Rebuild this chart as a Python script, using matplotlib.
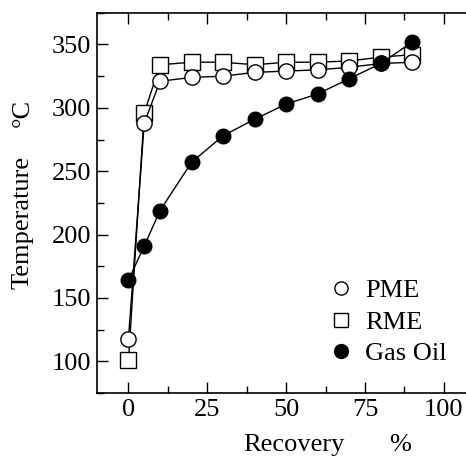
import matplotlib.pyplot as plt
from matplotlib.lines import Line2D
from matplotlib.ticker import MultipleLocator

# distillation curves
recovery = [0, 5, 10, 20, 30, 40, 50, 60, 70, 80, 90]
pme = [118, 288, 321, 324, 325, 328, 329, 330, 332, 335, 336]
rme = [101, 296, 334, 336, 336, 334, 336, 336, 337, 340, 342]
gas_oil = [164, 191, 219, 257, 278, 291, 303, 311, 323, 335, 352]

plt.rcParams['font.family'] = ['Liberation Serif', 'DejaVu Serif']

fig = plt.figure(figsize=(4.66, 4.57), dpi=100)
ax = fig.add_axes([0.208, 0.140, 0.792, 0.832])

ax.plot(recovery, rme, '-s', color='black', mfc='white', mec='black',
        ms=11, lw=1)
ax.plot(recovery, pme, '-o', color='black', mfc='white', mec='black',
        ms=11, lw=1)
ax.plot(recovery, gas_oil, '-o', color='black', mfc='black', mec='black',
        ms=10.5, lw=1)

ax.set_xlim(-10, 107)
ax.set_ylim(75, 375)
ax.xaxis.set_major_locator(MultipleLocator(25))
ax.xaxis.set_minor_locator(MultipleLocator(12.5))
ax.yaxis.set_major_locator(MultipleLocator(50))
ax.yaxis.set_minor_locator(MultipleLocator(25))
ax.tick_params(which='both', direction='in', top=True, right=False,
               width=1, labelsize=19, pad=4)
ax.tick_params(which='major', length=8)
ax.tick_params(which='minor', length=5)
ax.spines['right'].set_visible(False)
for s in ['left', 'bottom', 'top']:
    ax.spines[s].set_linewidth(1.2)

# legend shows markers only
handles = [
    Line2D([], [], ls='none', marker='o', mfc='white', mec='black', ms=9.5),
    Line2D([], [], ls='none', marker='s', mfc='white', mec='black', ms=9.5),
    Line2D([], [], ls='none', marker='o', mfc='black', mec='black', ms=10),
]
ax.legend(handles, ['PME', 'RME', 'Gas Oil'], loc='upper left',
          bbox_to_anchor=(0.633, 0.300), frameon=False, fontsize=19,
          borderpad=0, borderaxespad=0, handlelength=0.8,
          handletextpad=0.5, labelspacing=0.3)

fig.text(0.048, 0.513, 'Temperature', rotation=90, ha='center',
         va='center', fontsize=19)
fig.text(0.048, 0.753, '\u00b0C', rotation=90, ha='center',
         va='center', fontsize=19)
fig.text(0.630, 0.026, 'Recovery', ha='center', va='center', fontsize=19)
fig.text(0.859, 0.026, '%', ha='center', va='center', fontsize=19)

fig.savefig('out.png', dpi=100)
